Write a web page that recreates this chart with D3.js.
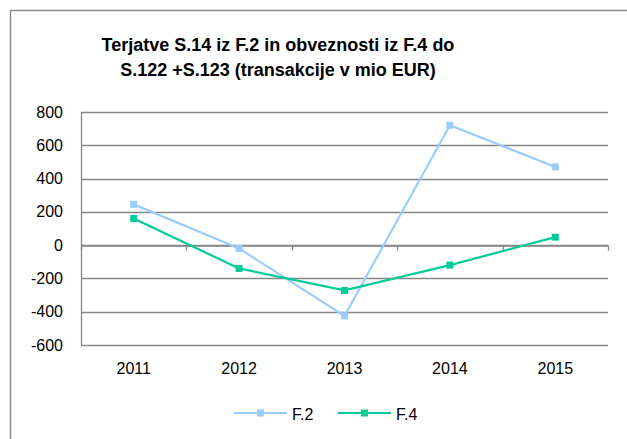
<!DOCTYPE html>
<html><head><meta charset="utf-8">
<script src="https://cdn.jsdelivr.net/npm/d3@7"></script>
<style>body{margin:0;background:#fff}svg{display:block}</style>
</head><body>
<script>
const categories = ["2011","2012","2013","2014","2015"];
const seriesF2 = [245, -20, -425, 720, 470];
const seriesF4 = [160, -140, -272, -120, 48];
const yTicks = [-600,-400,-200,0,200,400,600,800];
const titleLines = ["Terjatve S.14 iz F.2 in obveznosti iz F.4 do","S.122 +S.123 (transakcije v mio EUR)"];
const series = [
  {name:"F.2", values: seriesF2, color:"#99CCFF"},
  {name:"F.4", values: seriesF4, color:"#00CC99"}
];

const W=627,H=439;
const svg=d3.select("body").append("svg").attr("width",W).attr("height",H);
const font="Liberation Sans, Arial, sans-serif";
svg.append("rect").attr("x",10.5).attr("y",10.5).attr("width",700).attr("height",500)
  .attr("fill","#fff").attr("stroke","#8c8c8c").attr("stroke-width",1.5);

const L=81,R=608,T=112,B=345;
const x=d3.scaleBand().domain(categories).range([L,R]);
const y=d3.scaleLinear().domain([-600,800]).range([B,T]);
const grid="#868686";

svg.append("g").selectAll("line").data(yTicks).join("line")
  .attr("x1",L).attr("x2",R).attr("y1",d=>Math.round(y(d))+0.5).attr("y2",d=>Math.round(y(d))+0.5)
  .attr("stroke",grid).attr("stroke-width",1.3);
svg.append("line").attr("x1",L+0.5).attr("x2",L+0.5).attr("y1",T).attr("y2",B+0.5).attr("stroke",grid).attr("stroke-width",1.3);

// y axis labels
const yAxis=d3.axisLeft(y).tickValues(yTicks).tickSize(0).tickPadding(18).tickFormat(d=>String(d));
const ga=svg.append("g").attr("transform",`translate(${L},0)`).call(yAxis);
ga.select(".domain").remove();
ga.selectAll("text").attr("font-family",font).attr("font-size",16).attr("fill","#000");

// x axis at zero
const xAxis=d3.axisBottom(x).tickSize(0).tickFormat(()=>"");
const y0=Math.round(y(0))+0.5;
const gx=svg.append("g").attr("transform",`translate(0,${y0})`).call(xAxis);
gx.select(".domain").attr("stroke",grid).attr("stroke-width",1.3);
const bounds=categories.map(c=>x(c)).concat([R]);
gx.selectAll(".bt").data(bounds).join("line").attr("class","bt")
  .attr("x1",d=>Math.round(d)+0.5).attr("x2",d=>Math.round(d)+0.5).attr("y1",0).attr("y2",5)
  .attr("stroke",grid).attr("stroke-width",1.3);

// category labels
svg.append("g").selectAll("text").data(categories).join("text")
  .attr("x",d=>x(d)+x.bandwidth()/2).attr("y",374).attr("text-anchor","middle")
  .attr("font-family",font).attr("font-size",16).text(d=>d);

// lines
const line=d3.line().x((d,i)=>x(categories[i])+x.bandwidth()/2).y(d=>y(d));
series.forEach(s=>{
  svg.append("path").datum(s.values).attr("d",line).attr("fill","none")
    .attr("stroke",s.color).attr("stroke-width",2.2);
  svg.append("g").selectAll("rect").data(s.values).join("rect")
    .attr("x",(d,i)=>x(categories[i])+x.bandwidth()/2-3.5).attr("y",d=>y(d)-3.5)
    .attr("width",7).attr("height",7).attr("fill",s.color);
});

// title
svg.append("g").selectAll("text").data(titleLines).join("text")
  .attr("x",278).attr("y",(d,i)=>51+i*24.5).attr("text-anchor","middle")
  .attr("font-family",font).attr("font-weight","bold").attr("font-size",18).text(d=>d);

// legend
const leg=[{x1:234,x2:287,tx:292},{x1:338,x2:391,tx:396}];
series.forEach((s,i)=>{
  const g=svg.append("g");
  g.append("line").attr("x1",leg[i].x1).attr("x2",leg[i].x2).attr("y1",413).attr("y2",413).attr("stroke",s.color).attr("stroke-width",2.2);
  g.append("rect").attr("x",(leg[i].x1+leg[i].x2)/2-3.5).attr("y",409.5).attr("width",7).attr("height",7).attr("fill",s.color);
  g.append("text").attr("x",leg[i].tx).attr("y",420).attr("font-family",font).attr("font-size",16).text(s.name);
});
</script>
</body></html>
